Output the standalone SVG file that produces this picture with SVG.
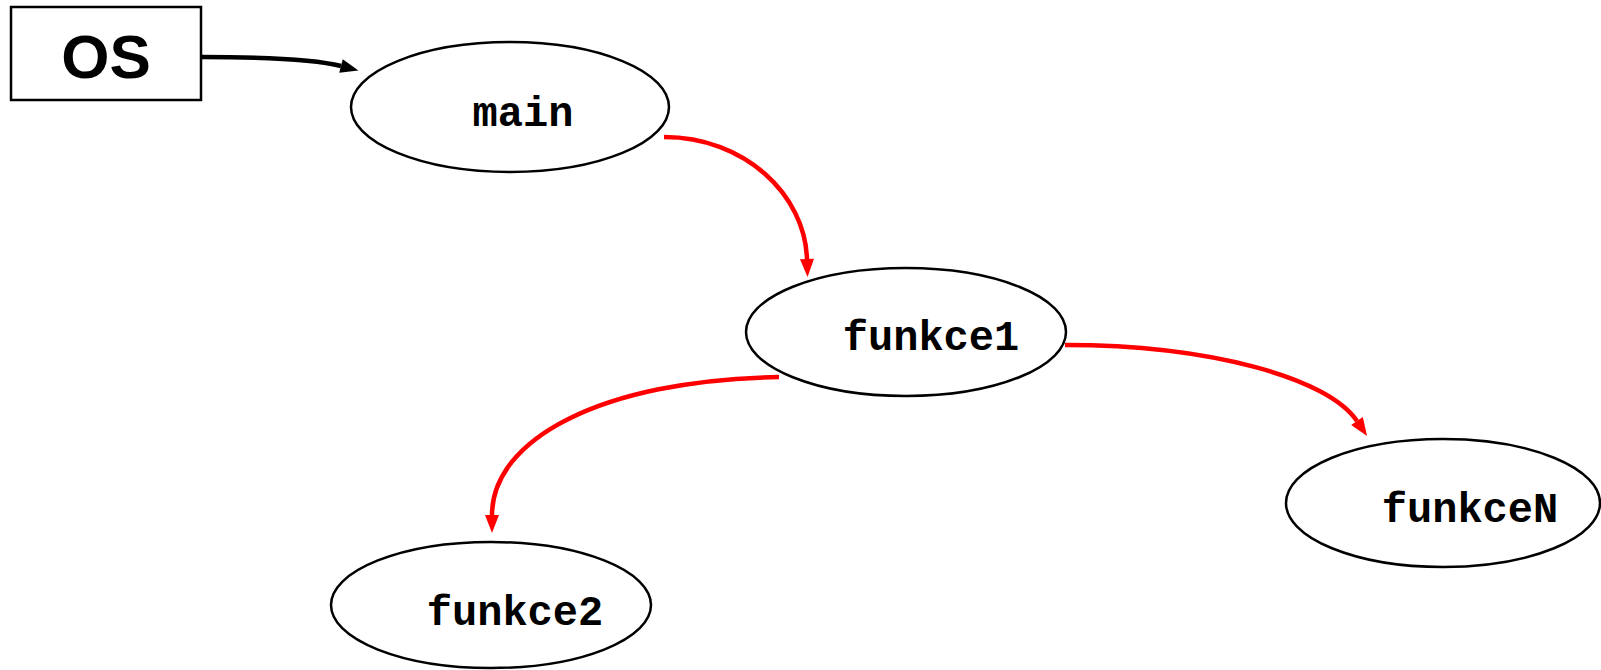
<svg xmlns="http://www.w3.org/2000/svg" width="1601" height="670" viewBox="0 0 1601 670">
<style>
.node{fill:#fff;stroke:#000;stroke-width:2.5}
.lbl{font-family:"Liberation Mono","Courier New",monospace;font-weight:bold;font-size:42px;fill:#000;text-anchor:middle}
.os{font-family:"Liberation Sans",Arial,sans-serif;font-weight:bold;font-size:62px;fill:#000;text-anchor:middle}
.call{fill:none;stroke:#ff0000;stroke-width:4.5;marker-end:url(#ar)}
.start{fill:none;stroke:#000;stroke-width:4.5;marker-end:url(#ab)}
</style>
<defs>
<marker id="ar" markerUnits="userSpaceOnUse" markerWidth="20" markerHeight="16" refX="0" refY="7" orient="auto" overflow="visible"><path d="M0,0 L18,7 L0,14 z" fill="#ff0000"/></marker>
<marker id="ab" markerUnits="userSpaceOnUse" markerWidth="20" markerHeight="16" refX="0" refY="7" orient="auto" overflow="visible"><path d="M0,0 L18,7 L0,14 z" fill="#000"/></marker>
</defs>
<rect width="1601" height="670" fill="#fff"/>
<g id="connectors">
<path class="start" d="M201,57 C280,57 318,60 341,66"/>
<path class="call" d="M664,137 C745,137 805,195 807,259"/>
<path class="call" d="M779,377 C600,380 492,440 492,515"/>
<path class="call" d="M1065,345 C1210,345 1328,378 1357,421"/>
</g>
<g id="os"><rect x="11" y="7" width="190" height="93" class="node"/><text x="106" y="78" class="os">OS</text></g>
<g id="main"><ellipse cx="510" cy="107" rx="159" ry="65" class="node"/><text x="523" y="126" class="lbl">main</text></g>
<g id="funkce1"><ellipse cx="906" cy="332" rx="160" ry="64" class="node"/><text x="931" y="350" class="lbl">funkce1</text></g>
<g id="funkce2"><ellipse cx="491" cy="605" rx="160" ry="63" class="node"/><text x="515" y="625" class="lbl">funkce2</text></g>
<g id="funkceN"><ellipse cx="1443" cy="503" rx="157" ry="64" class="node"/><text x="1470" y="522" class="lbl">funkceN</text></g>
</svg>
